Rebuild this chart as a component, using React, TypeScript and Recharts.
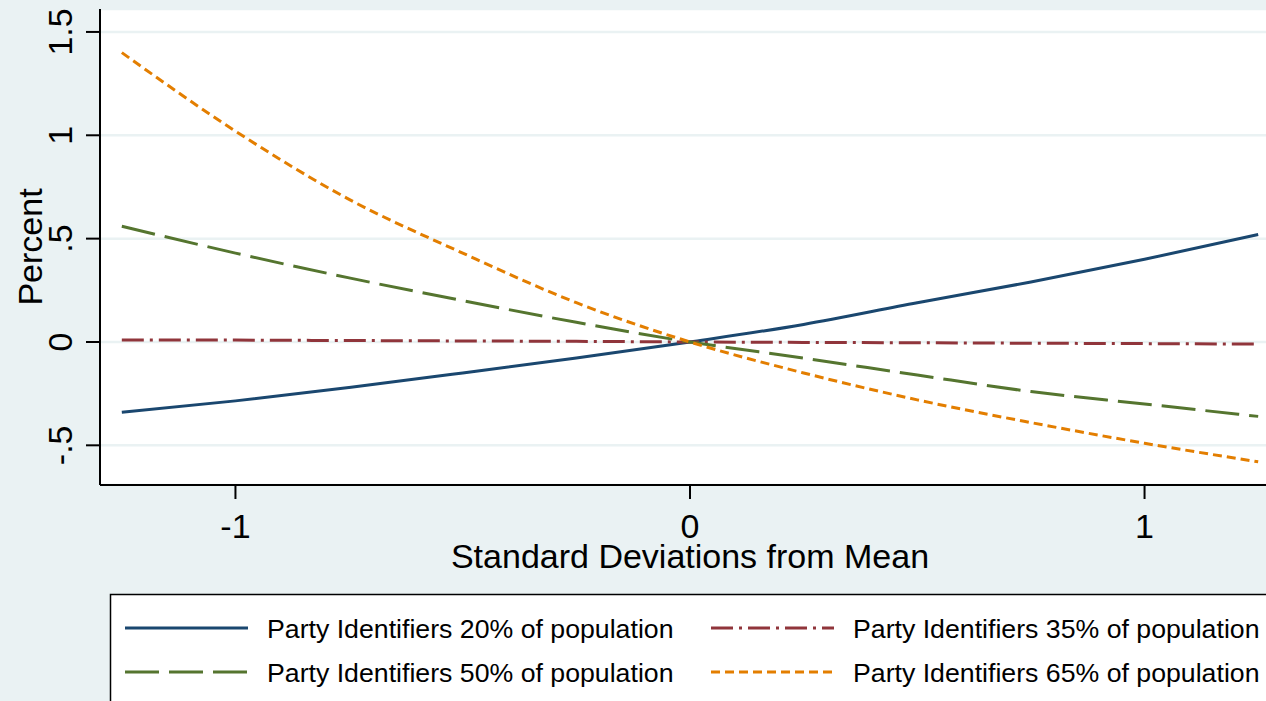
import { LineChart, Line, XAxis, YAxis, CartesianGrid, Label } from 'recharts'

const xValues = [-1.25, -1, -0.75, -0.5, -0.25, 0, 0.25, 0.5, 0.75, 1, 1.25]
const pid20 = [-0.34, -0.285, -0.22, -0.15, -0.078, 0, 0.085, 0.19, 0.29, 0.4, 0.52]
const pid35 = [0.01, 0.009, 0.007, 0.005, 0.003, 0, -0.002, -0.004, -0.006, -0.008, -0.01]
const pid50 = [0.56, 0.43, 0.31, 0.2, 0.095, 0, -0.078, -0.16, -0.24, -0.3, -0.36]
const pid65 = [1.4, 1.02, 0.69, 0.43, 0.19, 0, -0.15, -0.28, -0.39, -0.49, -0.58]

const xTicks = [-1, 0, 1]
const yTicks = [-0.5, 0, 0.5, 1, 1.5]

const series = [
  { key: 'pid20', name: 'Party Identifiers 20% of population', color: '#1A476F', dash: undefined },
  { key: 'pid35', name: 'Party Identifiers 35% of population', color: '#90353B', dash: '22 6 3 6' },
  { key: 'pid50', name: 'Party Identifiers 50% of population', color: '#55752F', dash: '34 10' },
  { key: 'pid65', name: 'Party Identifiers 65% of population', color: '#E37E00', dash: '9 5' },
]

const data = xValues.map((x, i) => ({
  x,
  pid20: pid20[i],
  pid35: pid35[i],
  pid50: pid50[i],
  pid65: pid65[i],
}))

const FONT = '"Liberation Sans", Arial, Helvetica, sans-serif'
const BG = '#EAF2F3'

const fmt = (v: number) => (v === 0 ? '0' : String(v).replace('0.', '.'))

function XTick({ x, y, payload }: any) {
  return (
    <text x={x} y={y + 37} textAnchor="middle" fontSize={34} fontFamily={FONT} fill="#000">
      {fmt(payload.value)}
    </text>
  )
}

function YTick({ x, y, payload }: any) {
  const bx = x - 12
  return (
    <text
      x={bx}
      y={y}
      textAnchor="middle"
      fontSize={34}
      fontFamily={FONT}
      fill="#000"
      transform={`rotate(-90, ${bx}, ${y})`}
    >
      {fmt(payload.value)}
    </text>
  )
}

// legend: 2 columns, row-major
const legendPos = [
  { lx: 125, tx: 267, y: 628 },
  { lx: 711, tx: 853, y: 628 },
  { lx: 125, tx: 267, y: 672 },
  { lx: 711, tx: 853, y: 672 },
]
const legendOrder = [0, 1, 2, 3]

function ChartLegend() {
  return (
    <svg width={1266} height={701} style={{ position: 'absolute', left: 0, top: 0, pointerEvents: 'none' }}>
      <rect x={110.5} y={594.5} width={1200} height={200} fill="#fff" stroke="#000" strokeWidth={1.5} />
      {legendOrder.map((si, i) => {
        const s = series[si]
        const p = legendPos[i]
        return (
          <g key={s.key}>
            <line x1={p.lx} x2={p.lx + 123} y1={p.y} y2={p.y} stroke={s.color} strokeWidth={2.8} strokeDasharray={s.dash} />
            <text x={p.tx} y={p.y + 9.5} fontSize={26.7} fontFamily={FONT} fill="#000">
              {s.name}
            </text>
          </g>
        )
      })}
    </svg>
  )
}

export default function App() {
  return (
    <div
      style={{
        position: 'fixed',
        left: 0,
        top: 0,
        width: 1266,
        height: 701,
        overflow: 'hidden',
        background: BG,
      }}
    >
      <LineChart width={1290} height={701} data={data} margin={{ top: 9, right: 10, left: 0, bottom: 116 }}>
        <CartesianGrid horizontal vertical={false} stroke={BG} strokeWidth={2.5} fill="#fff" fillOpacity={1} />
        <XAxis
          type="number"
          dataKey="x"
          domain={[-1.298, 1.298]}
          ticks={xTicks}
          allowDataOverflow
          height={100}
          tickSize={14}
          tick={<XTick />}
          axisLine={{ stroke: '#000', strokeWidth: 2 }}
          tickLine={{ stroke: '#000', strokeWidth: 2 }}
        >
          <Label
            content={({ viewBox }: any) => (
              <text
                x={viewBox.x + viewBox.width / 2}
                y={viewBox.y + 83}
                textAnchor="middle"
                fontSize={34}
                fontFamily={FONT}
                fill="#000"
              >
                Standard Deviations from Mean
              </text>
            )}
          />
        </XAxis>
        <YAxis
          type="number"
          domain={[-0.692, 1.611]}
          ticks={yTicks}
          allowDataOverflow
          width={100}
          tickSize={14}
          tick={<YTick />}
          axisLine={{ stroke: '#000', strokeWidth: 2 }}
          tickLine={{ stroke: '#000', strokeWidth: 2 }}
        >
          <Label
            content={({ viewBox }: any) => {
              const cy = viewBox.y + viewBox.height / 2
              return (
                <text
                  x={42}
                  y={cy}
                  textAnchor="middle"
                  fontSize={34}
                  fontFamily={FONT}
                  fill="#000"
                  transform={`rotate(-90, 42, ${cy})`}
                >
                  Percent
                </text>
              )
            }}
          />
        </YAxis>
        {series.map((s) => (
          <Line
            key={s.key}
            type="monotone"
            dataKey={s.key}
            name={s.name}
            stroke={s.color}
            strokeWidth={3}
            strokeDasharray={s.dash}
            dot={false}
            activeDot={false}
            isAnimationActive={false}
          />
        ))}
      </LineChart>
      <ChartLegend />
    </div>
  )
}
